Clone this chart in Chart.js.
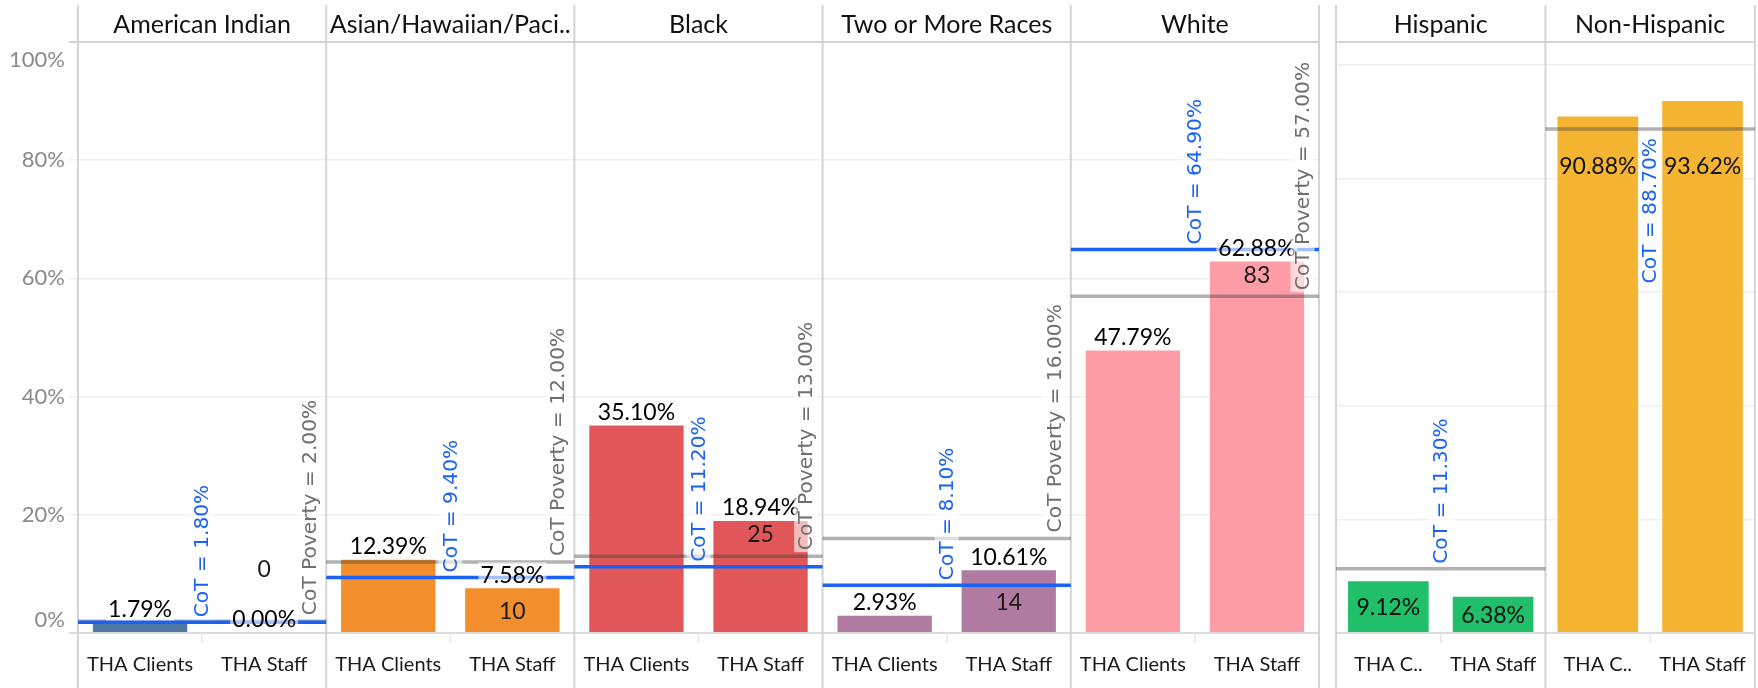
<!DOCTYPE html>
<html><head><meta charset="utf-8">
<script src="https://cdn.jsdelivr.net/npm/chart.js@4.4.1/dist/chart.umd.min.js"></script>
<style>
html,body{margin:0;padding:0;background:#fff;width:1758px;height:688px;overflow:hidden;}
canvas{position:absolute;top:0;}
#raceCanvas{left:0;}
#ethCanvas{left:1325px;}
</style></head><body>
<canvas id="raceCanvas" width="1325" height="688"></canvas>
<canvas id="ethCanvas" width="433" height="688"></canvas>
<script>
// ---------- DATA ----------
const racePanels = ["American Indian", "Asian/Hawaiian/Paci..", "Black", "Two or More Races", "White"];
const raceCategories = ["THA Clients", "THA Staff"];
const raceClients = [1.79, 12.39, 35.10, 2.93, 47.79];
const raceStaff = [0.00, 7.58, 18.94, 10.61, 62.88];
const raceStaffCounts = [0, 10, 25, 14, 83];
const raceCoT = [1.80, 9.40, 11.20, 8.10, 64.90];
const raceCoTPoverty = [2.00, 12.00, 13.00, 16.00, 57.00];
const raceColors = ["#4e79a7", "#f28e2b", "#e15759", "#b07aa1", "#ff9da7"];

const ethPanels = ["Hispanic", "Non-Hispanic"];
const ethCategories = ["THA C..", "THA Staff"];
const ethClients = [9.12, 90.88];
const ethStaff = [6.38, 93.62];
const ethCoT = [11.30, 88.70];
const ethColors = ["#22bf6a", "#f5b431"];

const yTickValues = [0, 20, 40, 60, 80, 100];

// ---------- STYLE ----------
const FONT = "Lato, 'Open Sans', sans-serif";
const ROT_FONT = "20.2px 'DejaVu Sans', sans-serif";
const BLUE = "#1a62f5";
const GRAYLINE = "rgba(60,60,60,0.40)";
const PANEL_LINE = "#d4d4d4";
const BOX = "rgba(255,255,255,0.6)";

function pct(v) { return v.toFixed(2) + "%"; }

function drawRot(ctx, text, x, anchor, color, mode) {
  ctx.save();
  ctx.font = ROT_FONT;
  ctx.translate(x, anchor);
  ctx.rotate(-Math.PI / 2);
  const w = ctx.measureText(text).width;
  const x0 = mode === "above" ? 0 : -w;
  ctx.fillStyle = BOX;
  ctx.fillRect(x0 - 2, -12, w + 4, 24);
  ctx.fillStyle = color;
  ctx.textAlign = "left";
  ctx.textBaseline = "middle";
  ctx.fillText(text, x0, 1);
  ctx.restore();
  return w;
}

function drawLabel(ctx, text, x, y, color, box) {
  ctx.save();
  ctx.font = "23px " + FONT;
  const w = ctx.measureText(text).width;
  if (box) { ctx.fillStyle = BOX; ctx.fillRect(x - w / 2 - 2, y - 12, w + 4, 24); }
  ctx.fillStyle = color;
  ctx.textAlign = "center";
  ctx.textBaseline = "middle";
  ctx.fillText(text, x, y + 1);
  ctx.restore();
}

function makePlugin(cfg) {
  return {
    id: "panels_" + cfg.key,
    afterDatasetsDraw(chart) {
      const ctx = chart.ctx, area = chart.chartArea;
      const xs = chart.scales.x, ys = chart.scales.y;
      const meta = chart.getDatasetMeta(0);
      const half = (xs.getPixelForValue(1) - xs.getPixelForValue(0)) / 2;
      const n = cfg.panels.length;
      ctx.save();
      // panel frame lines
      ctx.strokeStyle = PANEL_LINE; ctx.lineWidth = 2;
      const axisLeft = cfg.key === "race" ? area.left - 9 : area.left;
      ctx.beginPath();
      ctx.moveTo(axisLeft, area.top); ctx.lineTo(area.right, area.top);
      ctx.stroke();
      ctx.strokeStyle = "#dcdcdc";
      ctx.beginPath();
      ctx.moveTo(axisLeft, area.bottom); ctx.lineTo(area.right, area.bottom);
      ctx.stroke();
      for (let i = 0; i <= n; i++) {
        const x = i < n ? xs.getPixelForValue(2 * i) - half : xs.getPixelForValue(2 * n - 1) + half;
        ctx.strokeStyle = PANEL_LINE; ctx.lineWidth = 2;
        ctx.beginPath(); ctx.moveTo(x, 5); ctx.lineTo(x, chart.height); ctx.stroke();
      }
      // mid ticks
      ctx.strokeStyle = "#e6e6e6"; ctx.lineWidth = 1.5;
      for (let i = 0; i < n; i++) {
        const x = xs.getPixelForValue(2 * i) + half;
        ctx.beginPath(); ctx.moveTo(x, area.bottom); ctx.lineTo(x, area.bottom + 10); ctx.stroke();
      }
      // headers
      ctx.font = "25px " + FONT; ctx.fillStyle = "#111";
      ctx.textAlign = "center"; ctx.textBaseline = "middle";
      for (let i = 0; i < n; i++) {
        const x = xs.getPixelForValue(2 * i) + half;
        ctx.fillText(cfg.panels[i], x, 25);
      }
      // reference lines
      for (let i = 0; i < n; i++) {
        const L = xs.getPixelForValue(2 * i) - half, R = xs.getPixelForValue(2 * i + 1) + half;
        if (cfg.grayVals) {
          const y = ys.getPixelForValue(cfg.grayVals[i]);
          ctx.strokeStyle = GRAYLINE; ctx.lineWidth = 3.5;
          ctx.beginPath(); ctx.moveTo(L, y); ctx.lineTo(R, y); ctx.stroke();
        }
        const yb = ys.getPixelForValue(cfg.blueVals[i]);
        ctx.strokeStyle = cfg.blueLineGray ? GRAYLINE : BLUE;
        ctx.lineWidth = 3.5;
        ctx.beginPath(); ctx.moveTo(L, yb); ctx.lineTo(R, yb); ctx.stroke();
      }
      // bar labels
      for (let i = 0; i < n; i++) {
        const c = meta.data[2 * i], s = meta.data[2 * i + 1];
        const vals = [cfg.clients[i], cfg.staff[i]];
        const lineY = ys.getPixelForValue(cfg.blueVals[i]);
        [c, s].forEach((el, k) => {
          const h = el.base - el.y;
          if (cfg.labelMode === "above") {
            const ly = el.y - 14;
            drawLabel(ctx, pct(vals[k]), el.x, ly, "#000", true);
            if (k === 1) {
              let cy;
              if (h < 1) cy = ly - 50;
              else if (h < 80) cy = el.y + h / 2;
              else cy = el.y + 13;
              drawLabel(ctx, String(cfg.counts[i]), el.x, cy, "#1a1a1a", false);
            }
          } else {
            const ly = el.y < lineY ? Math.max(el.y + 13, lineY + 37) : el.y + h / 2;
            drawLabel(ctx, pct(vals[k]), el.x, ly, "#111", false);
          }
        });
      }
      // reference labels
      for (let i = 0; i < n; i++) {
        const mid = xs.getPixelForValue(2 * i) + half;
        const R = xs.getPixelForValue(2 * i + 1) + half;
        const yb = ys.getPixelForValue(cfg.blueVals[i]);
        const txt = "CoT = " + pct(cfg.blueVals[i]);
        ctx.font = ROT_FONT;
        const w = ctx.measureText(txt).width;
        if (yb - 5 - w > area.top + 5) drawRot(ctx, txt, mid, yb - 5, BLUE, "above");
        else drawRot(ctx, txt, mid, yb + 9, BLUE, "below");
        if (cfg.grayVals) {
          const yg = ys.getPixelForValue(cfg.grayVals[i]);
          drawRot(ctx, "CoT Poverty = " + pct(cfg.grayVals[i]), R - 16.5, yg - 6, "#6e6e6e", "above");
        }
      }
      // y tick labels
      if (cfg.yLabels) {
        ctx.font = "22px " + FONT; ctx.fillStyle = "#8a8a8a";
        ctx.textAlign = "right"; ctx.textBaseline = "middle";
        ys.ticks.forEach(t => {
          let y = ys.getPixelForValue(t.value);
          y = Math.min(Math.max(y, area.top + 18), area.bottom - 13);
          ctx.fillText(t.value + "%", area.left - 13, y);
        });
      }
      ctx.restore();
    }
  };
}

function buildChart(id, cfg) {
  const labels = cfg.panels.flatMap(() => cfg.categories);
  const data = cfg.panels.flatMap((p, i) => [cfg.clients[i], cfg.staff[i]]);
  const colors = cfg.panels.flatMap((p, i) => [cfg.colors[i], cfg.colors[i]]);
  return new Chart(document.getElementById(id), {
    type: "bar",
    data: { labels, datasets: [{ data, backgroundColor: colors, borderWidth: 0,
      barPercentage: cfg.barPct, categoryPercentage: 1.0 }] },
    options: {
      responsive: false, animation: false, devicePixelRatio: 1,
      layout: { padding: { top: 42, right: cfg.padRight, left: 0, bottom: 0 } },
      plugins: { legend: { display: false }, tooltip: { enabled: false } },
      scales: {
        x: {
          grid: { display: false }, border: { display: false },
          ticks: { font: { family: FONT, size: 20 }, color: "#1a1a1a", padding: 12, maxRotation: 0, autoSkip: false },
          afterFit(s) { s.height = 55; }
        },
        y: {
          min: 0, max: cfg.yMax,
          afterBuildTicks(s) { s.ticks = yTickValues.map(v => ({ value: v })); },
          ticks: { display: false },
          grid: { color: "#efefef", lineWidth: 1.5, drawTicks: cfg.key === "race", tickLength: 9 },
          border: { display: false },
          afterFit(s) { s.width = cfg.axisWidth; }
        }
      }
    },
    plugins: [makePlugin(cfg)]
  });
}

buildChart("raceCanvas", {
  key: "race", panels: racePanels, categories: raceCategories,
  clients: raceClients, staff: raceStaff, counts: raceStaffCounts,
  blueVals: raceCoT, grayVals: raceCoTPoverty, colors: raceColors,
  barPct: 0.76, padRight: 6, axisWidth: 78, yMax: 100, labelMode: "above", yLabels: true
});
buildChart("ethCanvas", {
  key: "eth", panels: ethPanels, categories: ethCategories,
  clients: ethClients, staff: ethStaff,
  blueVals: ethCoT, grayVals: null, blueLineGray: true, colors: ethColors,
  barPct: 0.77, padRight: 2, axisWidth: 11, yMax: 104, labelMode: "inside", yLabels: false
});
</script>
</body></html>
